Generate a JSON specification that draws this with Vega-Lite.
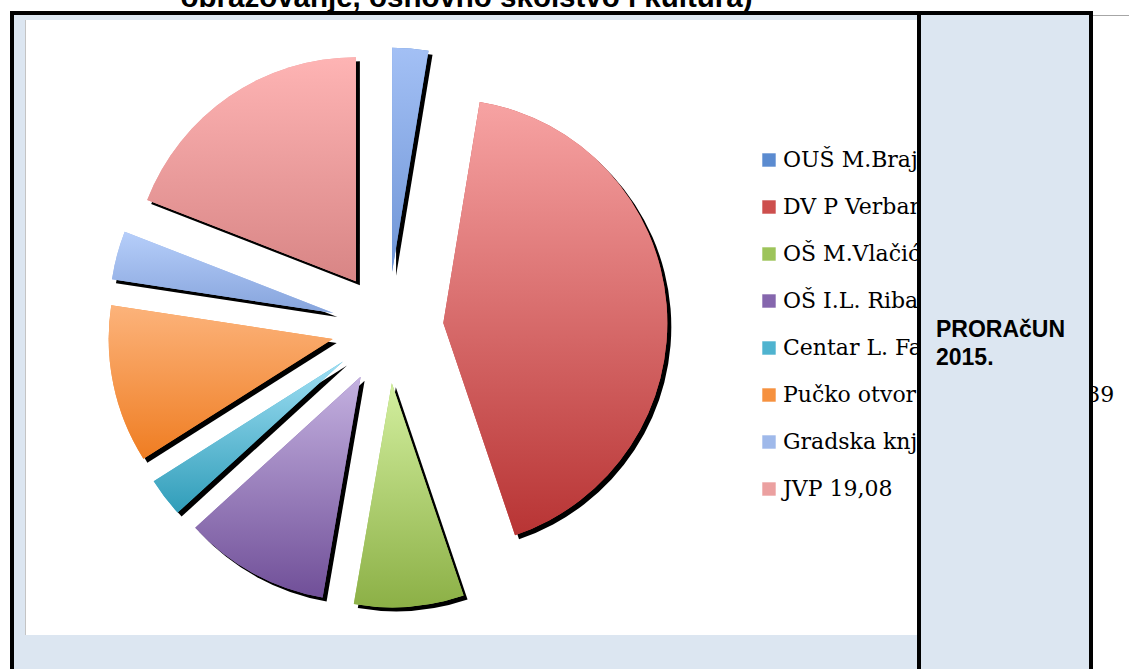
{
  "$schema": "https://vega.github.io/schema/vega-lite/v6.json",
  "background": "white",
  "padding": {"left": 10, "top": 0, "right": 0, "bottom": 0},
  "config": {"view": {"stroke": null}},
  "datasets": {
    "proracun": [
      {"rb": 1, "ustanova": "OUŠ M.Brajša 2,60", "udio": 2.6},
      {"rb": 2, "ustanova": "DV P Verbanac 42,20", "udio": 42.2},
      {"rb": 3, "ustanova": "OŠ M.Vlačića 7,90", "udio": 7.9},
      {"rb": 4, "ustanova": "OŠ I.L. Ribar 10,50", "udio": 10.5},
      {"rb": 5, "ustanova": "Centar L. Faraguna 2,80", "udio": 2.8},
      {"rb": 6, "ustanova": "Pučko otvoreno učilište 11,39", "udio": 11.39},
      {"rb": 7, "ustanova": "Gradska knjižnica 3,50", "udio": 3.5},
      {"rb": 8, "ustanova": "JVP 19,08", "udio": 19.08}
    ]
  },
  "spacing": 0,
  "resolve": {"legend": {"color": "independent"}},
  "vconcat": [
    {
      "width": 1083, "height": 11,
      "data": {"values": [{"naslov": "obrazovanje, osnovno školstvo i kultura)"}]},
      "mark": {"type": "text", "clip": true, "font": "Liberation Sans", "fontWeight": "bold", "fontSize": 29.5, "align": "center", "baseline": "alphabetic", "dx": -85, "dy": 1.5, "color": "#000000"},
      "encoding": {"text": {"field": "naslov", "type": "nominal"}}
    },
    {
      "width": 1083, "height": 4,
      "data": {"values": []}, "mark": "rect",
      "view": {"fill": "#000000", "stroke": null}
    },
    {
      "spacing": 0,
      "hconcat": [
        {"width": 4, "height": 5, "data": {"values": []}, "mark": "rect", "view": {"fill": "#000000", "stroke": null}},
        {"width": 903, "height": 5, "data": {"values": []}, "mark": "rect", "view": {"fill": "#dce6f1", "stroke": null}},
        {"width": 4, "height": 5, "data": {"values": []}, "mark": "rect", "view": {"fill": "#000000", "stroke": null}},
        {"width": 168, "height": 5, "data": {"values": []}, "mark": "rect", "view": {"fill": "#dce6f1", "stroke": null}},
        {"width": 4, "height": 5, "data": {"values": []}, "mark": "rect", "view": {"fill": "#000000", "stroke": null}},
        {"width": 36, "height": 1, "data": {"values": []}, "mark": "rect", "view": {"fill": "#a6a6a6", "stroke": null}}
      ]
    },
    {
      "spacing": 0,
      "bounds": "flush",
      "resolve": {"legend": {"color": "independent"}},
      "hconcat": [
        {"width": 4, "height": 615, "data": {"values": []}, "mark": "rect", "view": {"fill": "#000000", "stroke": null}},
        {"width": 11, "height": 615, "data": {"values": []}, "mark": "rect", "view": {"fill": "#dce6f1", "stroke": null}},
        {"width": 1, "height": 615, "data": {"values": []}, "mark": "rect", "view": {"fill": "#c4c4c4", "stroke": null}},
        {
          "width": 723, "height": 615,
          "view": {"fill": "white", "stroke": null},
          "data": {"name": "proracun"},
          "transform": [
            {"joinaggregate": [{"op": "sum", "field": "udio", "as": "ukupno"}]},
            {"window": [{"op": "sum", "field": "udio", "as": "kumulativ"}], "sort": [{"field": "rb"}], "frame": [null, 0]},
            {"calculate": "(datum.kumulativ - datum.udio) / datum.ukupno", "as": "pocetak"},
            {"calculate": "datum.kumulativ / datum.ukupno", "as": "kraj"},
            {"calculate": "(datum.kumulativ - datum.udio / 2) / datum.ukupno", "as": "sredina"}
          ],
          "encoding": {
            "theta": {"field": "pocetak", "type": "quantitative", "scale": {"domain": [0, 1]}},
            "theta2": {"field": "kraj"}
          },
          "layer": [
            {
              "mark": {"type": "arc", "outerRadius": 224, "fill": "#000000",
                "xOffset": {"expr": "56 * sin(2 * PI * datum.sredina) + 4"},
                "yOffset": {"expr": "-56 * cos(2 * PI * datum.sredina) + 4"}}
            },
            {
              "mark": {"type": "arc", "outerRadius": 224,
                "xOffset": {"expr": "56 * sin(2 * PI * datum.sredina)"},
                "yOffset": {"expr": "-56 * cos(2 * PI * datum.sredina)"}},
              "encoding": {
                "color": {
                  "field": "ustanova", "type": "nominal",
                  "scale": {
                    "domain": ["OUŠ M.Brajša 2,60", "DV P Verbanac 42,20", "OŠ M.Vlačića 7,90", "OŠ I.L. Ribar 10,50", "Centar L. Faraguna 2,80", "Pučko otvoreno učilište 11,39", "Gradska knjižnica 3,50", "JVP 19,08"],
                    "range": ["#5b8bd0", "#cd4f4d", "#9dc45a", "#8566ad", "#4fb3cf", "#f6913f", "#9fb9ea", "#eba0a0"]
                  },
                  "legend": {
                    "orient": "none", "legendX": 732, "legendY": 129, "title": null,
                    "padding": 0, "labelFont": "DejaVu Serif", "labelFontSize": 22, "labelColor": "#000000",
                    "labelLimit": 2000, "labelOffset": 3, "symbolType": "square", "symbolSize": 180,
                    "symbolStrokeWidth": 0, "rowPadding": 25
                  }
                }
              }
            },
            {
              "transform": [{"filter": "datum.rb == 1"}],
              "mark": {"type": "arc", "outerRadius": 224,
                "fill": {"gradient": "linear", "x1": 0, "y1": 0, "x2": 0, "y2": 1, "stops": [{"offset": 0, "color": "#a3c0f5"}, {"offset": 1, "color": "#6f95d6"}]},
                "xOffset": {"expr": "56 * sin(2 * PI * datum.sredina)"},
                "yOffset": {"expr": "-56 * cos(2 * PI * datum.sredina)"}}
            },
            {
              "transform": [{"filter": "datum.rb == 2"}],
              "mark": {"type": "arc", "outerRadius": 224,
                "fill": {"gradient": "linear", "x1": 0, "y1": 0, "x2": 0, "y2": 1, "stops": [{"offset": 0, "color": "#f7a3a3"}, {"offset": 1, "color": "#b83434"}]},
                "xOffset": {"expr": "56 * sin(2 * PI * datum.sredina)"},
                "yOffset": {"expr": "-56 * cos(2 * PI * datum.sredina)"}}
            },
            {
              "transform": [{"filter": "datum.rb == 3"}],
              "mark": {"type": "arc", "outerRadius": 224,
                "fill": {"gradient": "linear", "x1": 0, "y1": 0, "x2": 0, "y2": 1, "stops": [{"offset": 0, "color": "#d3ef9f"}, {"offset": 1, "color": "#8cb046"}]},
                "xOffset": {"expr": "56 * sin(2 * PI * datum.sredina)"},
                "yOffset": {"expr": "-56 * cos(2 * PI * datum.sredina)"}}
            },
            {
              "transform": [{"filter": "datum.rb == 4"}],
              "mark": {"type": "arc", "outerRadius": 224,
                "fill": {"gradient": "linear", "x1": 0, "y1": 0, "x2": 0, "y2": 1, "stops": [{"offset": 0, "color": "#c4b1e0"}, {"offset": 1, "color": "#704f98"}]},
                "xOffset": {"expr": "56 * sin(2 * PI * datum.sredina)"},
                "yOffset": {"expr": "-56 * cos(2 * PI * datum.sredina)"}}
            },
            {
              "transform": [{"filter": "datum.rb == 5"}],
              "mark": {"type": "arc", "outerRadius": 224,
                "fill": {"gradient": "linear", "x1": 0, "y1": 0, "x2": 0, "y2": 1, "stops": [{"offset": 0, "color": "#9fdff4"}, {"offset": 1, "color": "#309db9"}]},
                "xOffset": {"expr": "56 * sin(2 * PI * datum.sredina)"},
                "yOffset": {"expr": "-56 * cos(2 * PI * datum.sredina)"}}
            },
            {
              "transform": [{"filter": "datum.rb == 6"}],
              "mark": {"type": "arc", "outerRadius": 224,
                "fill": {"gradient": "linear", "x1": 0, "y1": 0, "x2": 0, "y2": 1, "stops": [{"offset": 0, "color": "#fcb37b"}, {"offset": 1, "color": "#ef7d22"}]},
                "xOffset": {"expr": "56 * sin(2 * PI * datum.sredina)"},
                "yOffset": {"expr": "-56 * cos(2 * PI * datum.sredina)"}}
            },
            {
              "transform": [{"filter": "datum.rb == 7"}],
              "mark": {"type": "arc", "outerRadius": 224,
                "fill": {"gradient": "linear", "x1": 0, "y1": 0, "x2": 0, "y2": 1, "stops": [{"offset": 0, "color": "#b6cefa"}, {"offset": 1, "color": "#86a4dc"}]},
                "xOffset": {"expr": "56 * sin(2 * PI * datum.sredina)"},
                "yOffset": {"expr": "-56 * cos(2 * PI * datum.sredina)"}}
            },
            {
              "transform": [{"filter": "datum.rb == 8"}],
              "mark": {"type": "arc", "outerRadius": 224,
                "fill": {"gradient": "linear", "x1": 0, "y1": 0, "x2": 0, "y2": 1, "stops": [{"offset": 0, "color": "#feb4b4"}, {"offset": 1, "color": "#d88585"}]},
                "xOffset": {"expr": "56 * sin(2 * PI * datum.sredina)"},
                "yOffset": {"expr": "-56 * cos(2 * PI * datum.sredina)"}}
            }
          ]
        },
        {"width": 168, "height": 615, "data": {"values": []}, "mark": "rect"},
        {"width": 4, "height": 615, "data": {"values": []}, "mark": "rect", "view": {"fill": "#000000", "stroke": null}},
        {
          "width": 168, "height": 615,
          "view": {"fill": "#dce6f1", "stroke": null},
          "data": {"values": [{"tekst": ["PRORAčUN", "2015."]}]},
          "mark": {"type": "text", "font": "Liberation Sans", "fontWeight": "bold", "fontSize": 23, "align": "left", "baseline": "alphabetic", "dx": -69, "dy": 9, "lineHeight": 28, "color": "#000000"},
          "encoding": {"text": {"field": "tekst", "type": "nominal"}}
        },
        {"width": 4, "height": 615, "data": {"values": []}, "mark": "rect", "view": {"fill": "#000000", "stroke": null}}
      ]
    },
    {
      "spacing": 0,
      "hconcat": [
        {"width": 4, "height": 34, "data": {"values": []}, "mark": "rect", "view": {"fill": "#000000", "stroke": null}},
        {"width": 903, "height": 34, "data": {"values": []}, "mark": "rect", "view": {"fill": "#dce6f1", "stroke": null}},
        {"width": 4, "height": 34, "data": {"values": []}, "mark": "rect", "view": {"fill": "#000000", "stroke": null}},
        {"width": 168, "height": 34, "data": {"values": []}, "mark": "rect", "view": {"fill": "#dce6f1", "stroke": null}},
        {"width": 4, "height": 34, "data": {"values": []}, "mark": "rect", "view": {"fill": "#000000", "stroke": null}}
      ]
    }
  ]
}
